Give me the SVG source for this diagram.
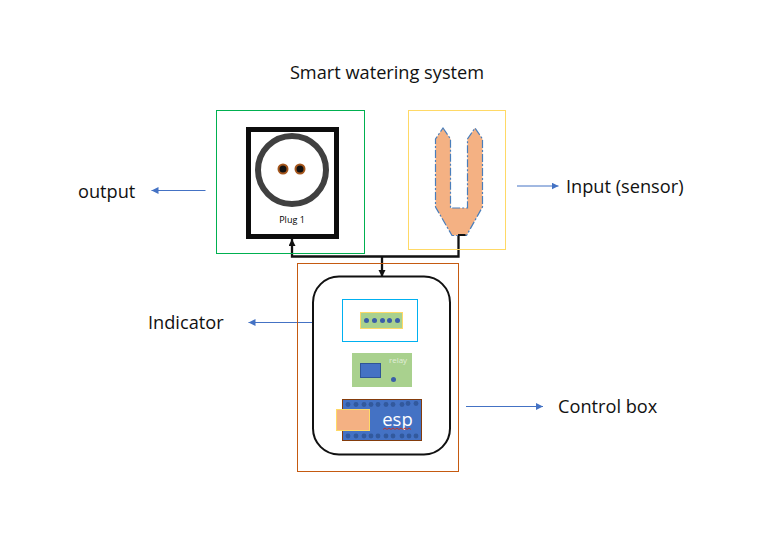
<svg xmlns="http://www.w3.org/2000/svg" width="770" height="539" viewBox="0 0 770 539">
<style>
.t{font-family:"Open Sans","Liberation Sans",sans-serif;font-size:18.2px;fill:#111}
.frame{fill:none;stroke-width:1}
.blue{fill:none;stroke:#4472c4;stroke-width:1;marker-end:url(#b)}
.wire{fill:none;stroke:#111;stroke-width:2.300}
.pin{fill:#2f5597;opacity:.85}
.dot{fill:#3a5ea8}
</style>
<defs>
<marker id="b" markerWidth="8" markerHeight="8" refX="7" refY="3.500" orient="auto" markerUnits="userSpaceOnUse"><path d="M0 0L7 3.500L0 7z" fill="#4472c4"/></marker>
<marker id="k" markerWidth="10" markerHeight="10" refX="7" refY="3.500" orient="auto" markerUnits="userSpaceOnUse"><path d="M0 0L7 3.500L0 7z" fill="#111"/></marker>
</defs>
<rect width="770" height="539" fill="#fff"/>
<text id="title" class="t" x="387" y="79" text-anchor="middle">Smart watering system</text>
<g id="connectors">
<path class="blue" d="M205.500 190.500H151.500"/>
<path class="blue" d="M517 186H558.500"/>
<path class="blue" d="M330 322.500H248.500"/>
<path class="blue" d="M466 406.500H543"/>
<path class="wire" d="M458.500 235V256.500H292V239" marker-end="url(#k)"/>
<path class="wire" d="M382 256.500V277" marker-end="url(#k)"/>
</g>
<g id="output"><rect class="frame" stroke="#00b050" x="216.500" y="110.500" width="148" height="143"/></g>
<g id="plug">
<rect x="248.500" y="129.500" width="88" height="107" fill="#fff" stroke="#0d0d0d" stroke-width="5"/>
<circle cx="292" cy="170" r="34" fill="#fff" stroke="#404040" stroke-width="6"/>
<circle cx="283" cy="169" r="4.500" fill="#111" stroke="#a5561c" stroke-width="2"/>
<circle cx="300" cy="169" r="4.500" fill="#111" stroke="#a5561c" stroke-width="2"/>
<text x="292" y="223" text-anchor="middle" font-family="'Open Sans','Liberation Sans',sans-serif" font-size="9" fill="#000">Plug 1</text>
</g>
<g id="sensor">
<rect class="frame" stroke="#ffd966" x="408.500" y="110.500" width="97" height="139"/>
<path d="M443 128L450.500 139V208H467.500V139L475 128L482.500 139V207L466.500 235.500H452L435.500 207V139z" fill="#f4b183" stroke="#4a7ebb" stroke-width="1.200" stroke-dasharray="8 2 2 2"/>
<path d="M458 235H465.500" stroke="#111" stroke-width="2"/>
</g>
<g id="control-box">
<rect class="frame" stroke="#c55a11" x="297.500" y="263.500" width="161" height="208"/>
<rect x="313" y="276.500" width="137" height="178" rx="26" fill="#fff" stroke="#111" stroke-width="2"/>
</g>
<g id="indicator">
<rect x="342.500" y="299.500" width="75" height="42" fill="#fff" stroke="#00b0f0" stroke-width="1"/>
<rect x="360.500" y="312.500" width="42" height="16" fill="#a9d18e" stroke="#ffd966" stroke-width="1"/>
<circle class="dot" cx="366.500" cy="320.500" r="2.500"/><circle class="dot" cx="374.500" cy="320.500" r="2.500"/><circle class="dot" cx="382.500" cy="320.500" r="2.500"/><circle class="dot" cx="389.500" cy="320.500" r="2.500"/><circle class="dot" cx="397.500" cy="320.500" r="2.500"/>
</g>
<g id="relay">
<rect x="352" y="353" width="60" height="34" fill="#a9d18e"/>
<rect x="360.500" y="363.500" width="20" height="14" fill="#4472c4" stroke="#2f5597" stroke-width="1"/>
<circle class="dot" cx="393.500" cy="379.500" r="2.500"/>
<text x="398" y="363" text-anchor="middle" font-family="'Open Sans','Liberation Sans',sans-serif" font-size="8" fill="#e2efda">relay</text>
</g>
<g id="esp">
<rect x="342.500" y="399.500" width="79" height="41" fill="#4472c4" stroke="#843c0c" stroke-width="1"/>
<g class="pin">
<circle cx="348" cy="404.500" r="2.400"/><circle cx="356" cy="404.500" r="2.400"/><circle cx="364" cy="404.500" r="2.400"/><circle cx="371" cy="404.500" r="2.400"/><circle cx="378" cy="404.500" r="2.400"/><circle cx="386" cy="404.500" r="2.400"/><circle cx="393" cy="404.500" r="2.400"/><circle cx="402" cy="404.500" r="2.400"/><circle cx="408" cy="403.500" r="2.400"/><circle cx="416" cy="403.500" r="2.400"/>
<circle cx="348" cy="436" r="2.400"/><circle cx="356" cy="436" r="2.400"/><circle cx="364" cy="436" r="2.400"/><circle cx="371" cy="436" r="2.400"/><circle cx="378" cy="436" r="2.400"/><circle cx="386" cy="436" r="2.400"/><circle cx="393" cy="436" r="2.400"/><circle cx="402" cy="436" r="2.400"/><circle cx="409" cy="436" r="2.400"/><circle cx="416" cy="436" r="2.400"/>
</g>
<rect x="336.500" y="409.500" width="33" height="21" fill="#f4b183" stroke="#ffd966" stroke-width="1"/>
<text x="397.500" y="426" text-anchor="middle" font-family="'Open Sans','Liberation Sans',sans-serif" font-size="18.500" fill="#fff">esp</text>
<path d="M383 429.500l2-1.500 2 1.500 2-1.500 2 1.500 2-1.500 2 1.500 2-1.500 2 1.500 2-1.500 2 1.500 2-1.500 2 1.500 2-1.500 2 1.500" fill="none" stroke="#c0392b" stroke-width="1"/>
</g>
<text id="label-output" class="t" x="78" y="197.500">output</text>
<text id="label-input" class="t" x="566" y="192.500">Input (sensor)</text>
<text id="label-indicator" class="t" x="148" y="328.500">Indicator</text>
<text id="label-control" class="t" x="558" y="412.500">Control box</text>
</svg>
